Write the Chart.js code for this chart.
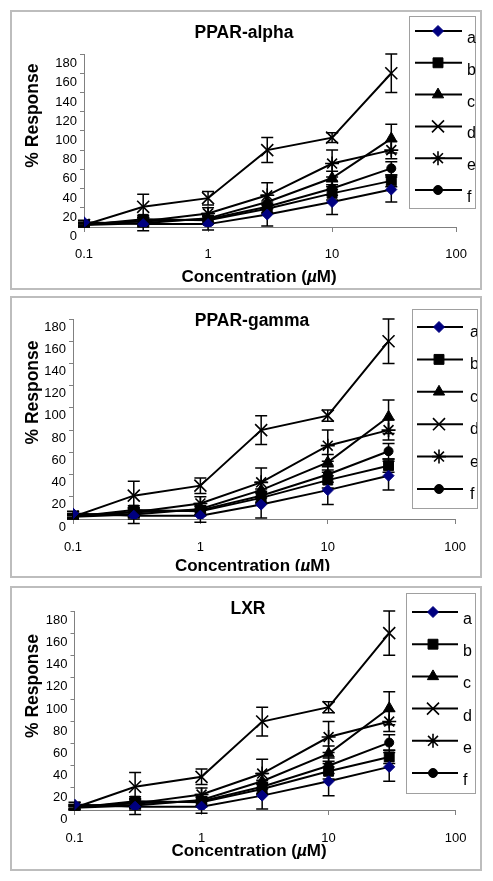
<!DOCTYPE html>
<html><head><meta charset="utf-8">
<script src="https://cdn.jsdelivr.net/npm/chart.js"></script>
<style>
html,body{margin:0;padding:0;background:#fff;width:493px;height:881px;overflow:hidden}
.panel{position:absolute;left:10px;width:472px;box-sizing:border-box;border:2px solid #bdbdbd}
canvas{position:absolute;left:10px}
</style></head><body>
<div class="panel" style="top:10px;height:280px"></div>
<div class="panel" style="top:296px;height:282px"></div>
<div class="panel" style="top:586px;height:285px"></div>
<canvas id="c1" width="472" height="280" style="top:10px"></canvas>
<canvas id="c2" width="472" height="282" style="top:296px"></canvas>
<canvas id="c3" width="472" height="285" style="top:586px"></canvas>
<script>
// ---- data ----
const concentrations = [0.1, 0.3, 1, 3, 10, 30];
const seriesLabels = ['a', 'b', 'c', 'd', 'e', 'f'];
const valuesA = [5, 3, 3, 13, 26, 39];
const valuesB = [2, 8, 7, 19, 35, 48];
const valuesC = [2, 4, 9, 26, 51, 92];
const valuesD = [2, 21, 30, 80, 93, 160];
const valuesE = [3, 6, 14, 33, 66, 80];
const valuesF = [3, 6, 8, 21, 40, 61];
const errorsA = [2, 7, 6, 12, 13, 13];
const errorsB = [2, 4, 4, 5, 7, 6];
const errorsC = [2, 4, 5, 7, 7, 15];
const errorsD = [1, 13, 7, 13, 5, 20];
const errorsE = [2, 4, 6, 13, 14, 9];
const errorsF = [2, 4, 4, 6, 7, 7];
const yTickValues = [0, 20, 40, 60, 80, 100, 120, 140, 160, 180];
const xTickValues = [0.1, 1, 10, 100];
const xTickLabels = ['0.1', '1', '10', '100'];
const panelTitles = ['PPAR-alpha', 'PPAR-gamma', 'LXR'];
const yAxisTitle = '% Response';
const xAxisTitleParts = ['Concentration (', 'µ', 'M)'];

const seriesValues = [valuesA, valuesB, valuesC, valuesD, valuesE, valuesF];
const seriesErrors = [errorsA, errorsB, errorsC, errorsD, errorsE, errorsF];

// ---- styles ----
const FAMILY = '"Liberation Sans", Arial, sans-serif';
const markerStyles = [
  {pointStyle: 'rectRot', radius: 5.5, fill: '#000080', stroke: '#000080', bw: 1},
  {pointStyle: 'rect', radius: 7, fill: '#000', stroke: '#000', bw: 1},
  {pointStyle: 'triangle', radius: 6.5, fill: '#000', stroke: '#000', bw: 1},
  {pointStyle: 'crossRot', radius: 8.5, fill: '#000', stroke: '#000', bw: 1.6},
  {pointStyle: 'star', radius: 7, fill: '#000', stroke: '#000', bw: 1.6},
  {pointStyle: 'circle', radius: 4.5, fill: '#000', stroke: '#000', bw: 1}
];

const layouts = [
  {id: 'c1', left: 74, right: 16.5, top: 44, bottom: 217, h: 280, xPad: 15, labelShift: 9.5,
   title: [234, 23], yTitle: [23, 105.6], xTitle: [249, 267.8], xClip: null,
   legend: {x: 399, y: 6, w: 66, h: 192, y0: 21, dy: 31.8, lx1: 405, lx2: 452, mx: 428, tx: 457, base: 12, clip: false}},
  {id: 'c2', left: 63, right: 16, top: 23, bottom: 223, h: 282, xPad: 16, labelShift: 8,
   title: [242, 24.7], yTitle: [23, 96.5], xTitle: [242.5, 270.8], xClip: 275,
   legend: {x: 402, y: 13, w: 65, h: 199, y0: 31, dy: 32.4, lx1: 407, lx2: 453, mx: 429, tx: 460, base: 10, clip: true}},
  {id: 'c3', left: 64.5, right: 19, top: 25, bottom: 224, h: 285, xPad: 15.5, labelShift: 9.5,
   title: [238, 23.3], yTitle: [23, 100], xTitle: [239, 265.7], xClip: null,
   legend: {x: 396, y: 7, w: 69, h: 200, y0: 26, dy: 32.2, lx1: 402, lx2: 448, mx: 423, tx: 453, base: 12, clip: false}}
];

const decorPlugin = {
  id: 'decor',
  beforeDatasetsDraw(chart, args, o) {
    const ctx = chart.ctx, xs = chart.scales.x, ys = chart.scales.y;
    ctx.save();
    ctx.strokeStyle = '#000';
    ctx.lineWidth = 1.5;
    chart.data.datasets.forEach(ds => {
      ds.data.forEach((pt, i) => {
        const e = ds.errors[i];
        const px = xs.getPixelForValue(pt.x);
        const t = ys.getPixelForValue(pt.y + e);
        const b = ys.getPixelForValue(pt.y - e);
        ctx.beginPath();
        ctx.moveTo(px, t); ctx.lineTo(px, b);
        ctx.moveTo(px - 6, t); ctx.lineTo(px + 6, t);
        ctx.moveTo(px - 6, b); ctx.lineTo(px + 6, b);
        ctx.stroke();
      });
    });
    ctx.restore();
  },
  afterDraw(chart, args, o) {
    const ctx = chart.ctx;
    ctx.save();
    ctx.fillStyle = '#000';
    // chart title
    ctx.font = 'bold 17.5px ' + FAMILY;
    ctx.textAlign = 'center';
    ctx.textBaseline = 'middle';
    ctx.fillText(o.titleText, o.title[0], o.title[1]);
    // y axis title
    ctx.save();
    ctx.translate(o.yTitle[0], o.yTitle[1]);
    ctx.rotate(-Math.PI / 2);
    ctx.font = 'bold 17.5px ' + FAMILY;
    ctx.fillText(yAxisTitle, 0, 0);
    ctx.restore();
    // x axis title
    ctx.save();
    if (o.xClip) { ctx.beginPath(); ctx.rect(0, 0, chart.width, o.xClip); ctx.clip(); }
    const fonts = ['bold 17px ' + FAMILY, 'italic bold 17px ' + FAMILY, 'bold 17px ' + FAMILY];
    const widths = xAxisTitleParts.map((p, i) => { ctx.font = fonts[i]; return ctx.measureText(p).width; });
    let x = o.xTitle[0] - widths.reduce((a, b) => a + b, 0) / 2;
    ctx.textAlign = 'left';
    xAxisTitleParts.forEach((p, i) => { ctx.font = fonts[i]; ctx.fillText(p, x, o.xTitle[1]); x += widths[i]; });
    ctx.restore();
    // legend
    const L = o.legend;
    ctx.fillStyle = '#fff';
    ctx.fillRect(L.x, L.y, L.w, L.h);
    ctx.strokeStyle = '#a0a0a0';
    ctx.lineWidth = 1;
    ctx.strokeRect(L.x + 0.5, L.y + 0.5, L.w, L.h);
    chart.data.datasets.forEach((ds, i) => {
      const y = L.y0 + i * L.dy;
      ctx.strokeStyle = '#000';
      ctx.lineWidth = 2;
      ctx.beginPath(); ctx.moveTo(L.lx1, y); ctx.lineTo(L.lx2, y); ctx.stroke();
      const m = markerStyles[i];
      ctx.fillStyle = m.fill; ctx.strokeStyle = m.stroke; ctx.lineWidth = m.bw;
      Chart.helpers.drawPoint(ctx, {pointStyle: m.pointStyle, rotation: 0, radius: m.radius, borderWidth: m.bw}, L.mx, y);
      ctx.save();
      if (L.clip) { ctx.beginPath(); ctx.rect(L.x, L.y, L.w, L.h); ctx.clip(); }
      ctx.fillStyle = '#000';
      ctx.font = '16px ' + FAMILY;
      ctx.textAlign = 'left';
      ctx.textBaseline = 'alphabetic';
      ctx.fillText(ds.label, L.tx, y + L.base);
      ctx.restore();
    });
    ctx.restore();
  }
};

function makeChart(idx) {
  const cfg = layouts[idx];
  const datasets = seriesLabels.map((lab, i) => ({
    label: lab,
    data: concentrations.map((c, j) => ({x: c, y: seriesValues[i][j]})),
    errors: seriesErrors[i],
    borderColor: '#000',
    borderWidth: 2,
    pointStyle: markerStyles[i].pointStyle,
    pointRadius: markerStyles[i].radius,
    pointBackgroundColor: markerStyles[i].fill,
    pointBorderColor: markerStyles[i].stroke,
    pointBorderWidth: markerStyles[i].bw,
    fill: false,
    tension: 0
  }));
  new Chart(document.getElementById(cfg.id), {
    type: 'line',
    data: {datasets},
    plugins: [decorPlugin],
    options: {
      responsive: false,
      animation: false,
      devicePixelRatio: 1,
      layout: {padding: {left: 0, right: cfg.right, top: cfg.top, bottom: 0}},
      plugins: {
        legend: {display: false},
        title: {display: false},
        tooltip: {enabled: false},
        decor: Object.assign({titleText: panelTitles[idx]}, cfg)
      },
      scales: {
        x: {
          type: 'logarithmic',
          min: 0.1, max: 100,
          afterBuildTicks: s => { s.ticks = xTickValues.map(v => ({value: v})); },
          afterFit: s => { s.height = cfg.h - cfg.bottom; },
          ticks: {
            autoSkip: false, maxRotation: 0, padding: cfg.xPad, color: '#000',
            font: {family: FAMILY, size: 13},
            callback: (v, i) => xTickLabels[i]
          },
          grid: {display: true, drawOnChartArea: false, drawTicks: true, tickLength: 5, color: '#808080'},
          border: {display: true, color: '#808080', width: 1}
        },
        y: {
          type: 'linear',
          min: 0, max: 180,
          afterBuildTicks: s => { s.ticks = yTickValues.map(v => ({value: v})); },
          afterFit: s => { s.width = cfg.left; },
          ticks: {
            padding: 3, color: '#000', labelOffset: cfg.labelShift,
            font: {family: FAMILY, size: 13}
          },
          grid: {display: true, drawOnChartArea: false, drawTicks: true, tickLength: 4, color: '#808080'},
          border: {display: true, color: '#808080', width: 1}
        }
      }
    }
  });
}
[0, 1, 2].forEach(makeChart);
</script>
</body></html>
